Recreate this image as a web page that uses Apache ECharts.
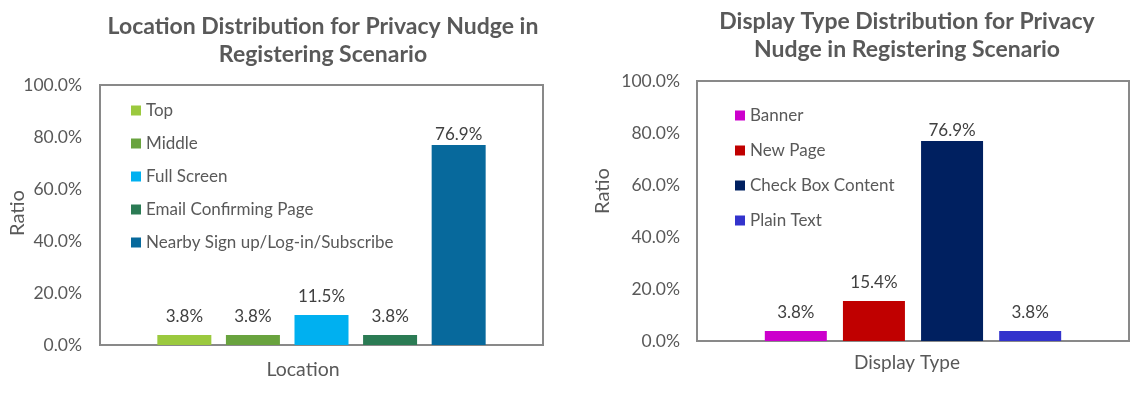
<!DOCTYPE html>
<html>
<head>
<meta charset="utf-8">
<style>html,body{margin:0;padding:0;background:#fff}#c{width:1135px;height:397px}</style>
<script src="https://cdn.jsdelivr.net/npm/echarts@6/dist/echarts.min.js"></script>
</head>
<body>
<div id="c"></div>
<script>
// Left chart: Location distribution
const locationNames = ['Top', 'Middle', 'Full Screen', 'Email Confirming Page', 'Nearby Sign up/Log-in/Subscribe'];
const locationValues = [3.8, 3.8, 11.5, 3.8, 76.9];
const locationColors = ['#9BC93E', '#69A33E', '#00B0F0', '#2B7B54', '#07699C'];
// Right chart: Display type distribution
const displayNames = ['Banner', 'New Page', 'Check Box Content', 'Plain Text'];
const displayValues = [3.8, 15.4, 76.9, 3.8];
const displayColors = ['#CC00CC', '#C00000', '#002060', '#3333CC'];
// Axis ticks
const yTicks = [0, 20, 40, 60, 80, 100];
const titles = ['Location Distribution for Privacy Nudge in\nRegistering Scenario', 'Display Type Distribution for Privacy\nNudge in Registering Scenario'];
const axisNamesX = ['Location', 'Display Type'];
const axisNameY = 'Ratio';

const FONT = 'Lato';
const TXT = '#595959';
const BORDER = '#898989';

const chart = echarts.init(document.getElementById('c'));

function yAxis(gridIndex, margin) {
  return {
    type: 'value', gridIndex, min: yTicks[0], max: yTicks[yTicks.length - 1], interval: yTicks[1] - yTicks[0],
    axisLine: { show: false }, axisTick: { show: false }, splitLine: { show: false },
    axisLabel: { color: TXT, fontFamily: FONT, fontSize: 17.5, margin, formatter: v => v.toFixed(1) + '%' }
  };
}
function xAxis(gridIndex) {
  return {
    type: 'category', gridIndex, data: [''],
    axisLine: { show: true, lineStyle: { color: BORDER, width: 2 } },
    axisTick: { show: false }, axisLabel: { show: false }, splitLine: { show: false }
  };
}
function barSeries(names, values, colors, idx, width, gap) {
  return names.map((n, i) => ({
    type: 'bar', name: n, xAxisIndex: idx, yAxisIndex: idx,
    data: [values[i]], barWidth: width, barGap: gap,
    itemStyle: { color: colors[i] },
    label: { show: true, position: 'top', distance: values[i] > 50 ? 2 : 10, color: '#404040', fontFamily: FONT, fontSize: 17,
      formatter: p => p.value.toFixed(1) + '%' }
  }));
}
function legend(names, colors, left, top, gap) {
  return {
    orient: 'vertical', left, top, itemWidth: 10, itemHeight: 10, itemGap: gap,
    data: names.map((n, i) => ({ name: n, icon: 'rect', itemStyle: { color: colors[i] } })),
    textStyle: { color: TXT, fontFamily: FONT, fontSize: 17 },
    selectedMode: false
  };
}
function text(str, x, y, opts) {
  return Object.assign({
    type: 'text', x, y,
    style: { text: str, align: 'center', verticalAlign: 'middle', fill: TXT, font: (opts && opts.font) || ('16px ' + FONT), lineHeight: (opts && opts.lh) || 20 }
  }, opts && opts.rot ? { rotation: Math.PI / 2 } : {});
}

chart.setOption({
  animation: false,
  grid: [
    { left: 100, right: 592, top: 85, bottom: 52, show: true, borderColor: BORDER, borderWidth: 2, backgroundColor: 'transparent' },
    { left: 697, right: 6, top: 81, bottom: 56, show: true, borderColor: BORDER, borderWidth: 2, backgroundColor: 'transparent' }
  ],
  xAxis: [xAxis(0), xAxis(1)],
  yAxis: [yAxis(0, 18), yAxis(1, 17)],
  legend: [
    legend(locationNames, locationColors, 126, 97, 16),
    legend(displayNames, displayColors, 730, 102, 18)
  ],
  series: barSeries(locationNames, locationValues, locationColors, 0, 54, '27%')
    .concat(barSeries(displayNames, displayValues, displayColors, 1, 62, '26%')),
  graphic: [
    text(titles[0], 323, 41, { font: 'bold 23px ' + FONT, lh: 28 }),
    text(titles[1], 907, 36, { font: 'bold 23px ' + FONT, lh: 28 }),
    text(axisNamesX[0], 303, 370, { font: '19.5px ' + FONT }),
    text(axisNamesX[1], 907, 363, { font: '19px ' + FONT }),
    text(axisNameY, 18, 213, { font: '20px ' + FONT, rot: true }),
    text(axisNameY, 603, 191, { font: '20px ' + FONT, rot: true })
  ]
});
</script>
</body>
</html>
